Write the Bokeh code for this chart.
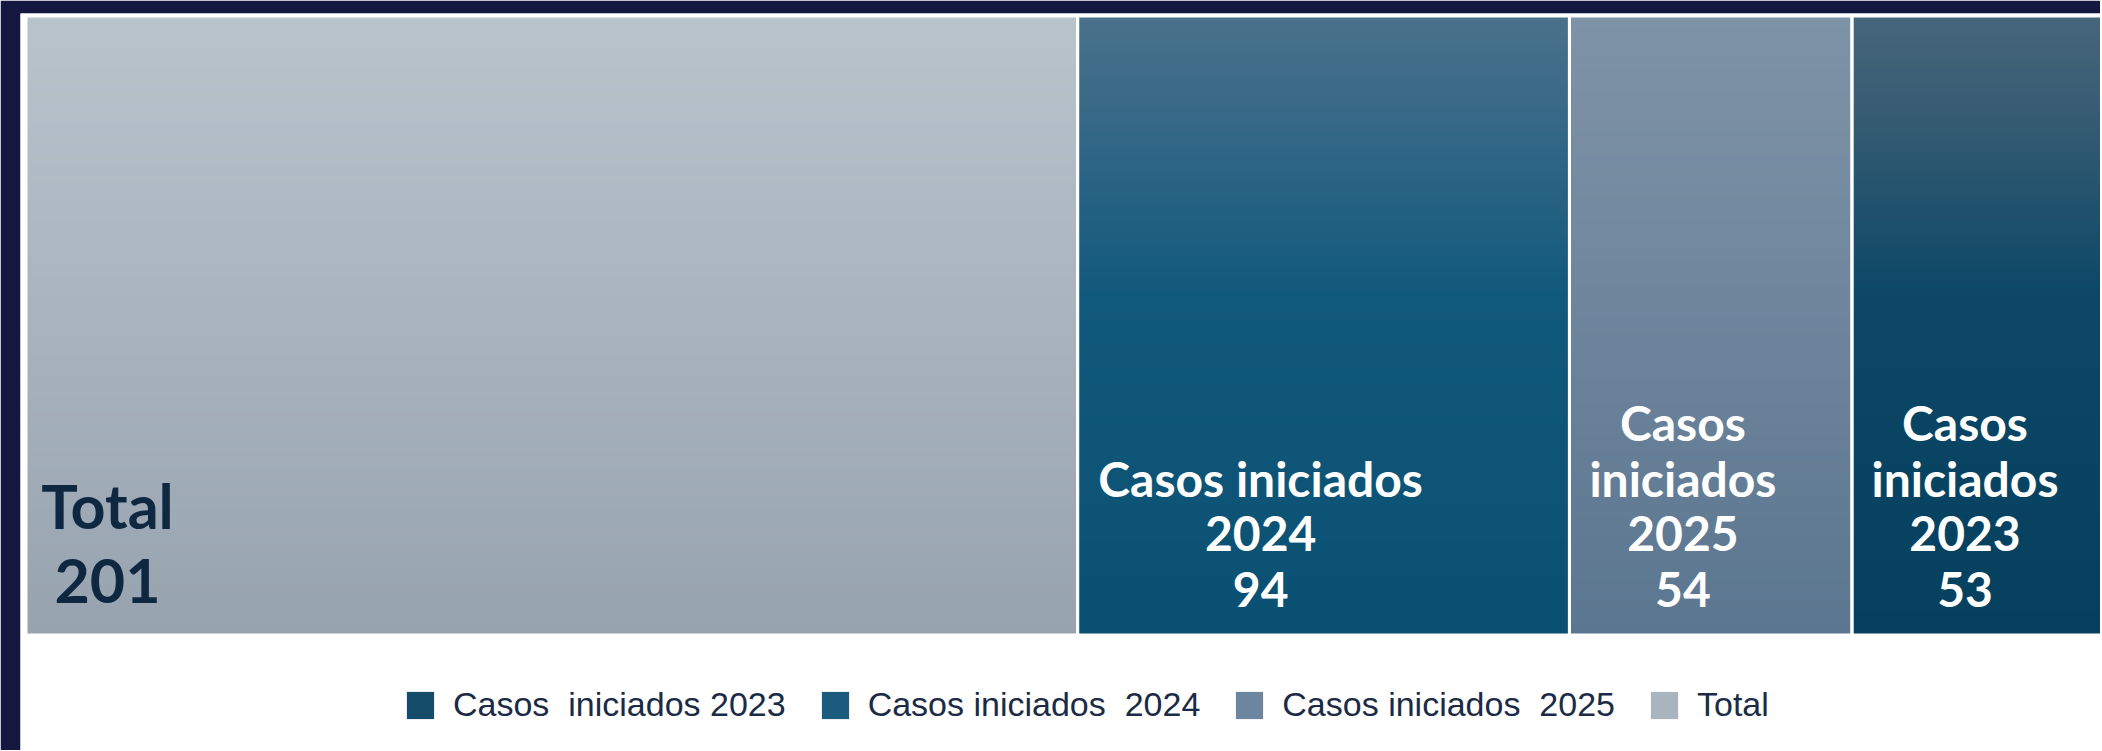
import numpy as np
from bokeh.plotting import figure
from bokeh.models import ColumnDataSource, Range1d, Legend, LegendItem
from bokeh.core.properties import value
from bokeh.embed import file_html
from bokeh.resources import INLINE

# ---------------- data ----------------
categories = ["Total", "Casos iniciados  2024", "Casos iniciados  2025", "Casos  iniciados 2023"]
values = [201, 94, 54, 53]

# ---------------- styles / layout ----------------
NAVY = "#141840"
W, H = 2100, 750
BORDER_L, BORDER_T = 20, 13
FW, FH = W - BORDER_L, H - BORDER_T
K = 5.232            # pixels per case along x
PAD_X = 5.5          # white padding left of the first tile (px)
TILE_H = 619         # tile height (px, y data units)
PAD_T = 2.5
gradient_stops = [  # (position from top, colour)
    [(0.0, "#B9C3CC"), (1.0, "#97A3AF")],
    [(0.0, "#4A718B"), (0.16, "#376987"), (0.45, "#11597C"), (1.0, "#0A5072")],
    [(0.0, "#7F93A7"), (1.0, "#5B7690")],
    [(0.0, "#46667A"), (0.15, "#375C73"), (0.45, "#0C4866"), (1.0, "#05405E")],
]
legend_colors = {
    "Total": "#A9B4BF",
    "Casos iniciados  2024": "#1B5C7E",
    "Casos iniciados  2025": "#6D86A0",
    "Casos  iniciados 2023": "#154C6A",
}
word_groups = [[1], [2, 1], [1, 1, 1], [1, 1, 1]]
label_dx = [81.5, 183, 113.5, 113]          # px from tile left to label centre
label_color = ["#0F2842", "#FFFFFF", "#FFFFFF", "#FFFFFF"]
label_size = [61, 48, 48, 48]
label_lh = [75, 55.5, 55.5, 55.5]
label_bottom = [54.5, 46, 46, 46]


def hex2rgb(h):
    return tuple(int(h[i:i + 2], 16) for i in (1, 3, 5))


def grad_image(stops, n=300):
    t = np.linspace(0, 1, n)          # row 0 = bottom
    pos = 1 - t
    ps = [s[0] for s in stops]
    rgb = np.array([hex2rgb(s[1]) for s in stops], dtype=float)
    img = np.empty((n, 1), dtype=np.uint32)
    view = img.view(dtype=np.uint8).reshape((n, 1, 4))
    for c in range(3):
        view[:, 0, c] = np.round(np.interp(pos, ps, rgb[:, c])).astype(np.uint8)
    view[:, 0, 3] = 255
    return img


vals = np.array(values, dtype=float)
lefts = np.concatenate([[0.0], np.cumsum(vals)[:-1]])
rights = lefts + vals

x0 = -PAD_X / K
p = figure(width=W, height=H,
           x_range=Range1d(x0, x0 + FW / K),
           y_range=Range1d(TILE_H + PAD_T - FH, TILE_H + PAD_T),
           output_backend="svg", toolbar_location=None,
           x_axis_type=None, y_axis_type=None,
           min_border_left=BORDER_L, min_border_top=BORDER_T, min_border_right=0, min_border_bottom=0,
           border_fill_color=NAVY, background_fill_color="white", outline_line_color=None)
p.grid.visible = False

img_src = ColumnDataSource(dict(
    image=[grad_image(s) for s in gradient_stops],
    x=list(lefts), y=[0] * len(lefts), dw=list(vals), dh=[TILE_H] * len(lefts)))
p.image_rgba(image="image", x="x", y="y", dw="dw", dh="dh", source=img_src)

p.quad(left=list(lefts), right=list(rights), bottom=[0] * len(lefts), top=[TILE_H] * len(lefts),
       fill_color=None, line_color="white", line_width=3)

# labels, one text glyph row per line
for i, name in enumerate(categories):
    words = name.split()
    lines, k = [], 0
    for g in word_groups[i]:
        lines.append(" ".join(words[k:k + g]))
        k += g
    lines.append(str(values[i]))
    n = len(lines)
    xs = [lefts[i]] * n
    ys = [label_bottom[i] + (n - 1 - j) * label_lh[i] for j in range(n)]
    p.text(x=xs, y=ys, text=lines, x_offset=label_dx[i], text_align="center",
           text_baseline="alphabetic", text_font=value("Lato"), text_font_style="bold",
           text_font_size=f"{label_size[i]}px", text_color=label_color[i])

# legend (swatches drawn by an off-screen helper renderer)
leg_names = sorted(categories)
off = x0 - 50
leg_src = ColumnDataSource(dict(left=[off] * 4, right=[off + 1] * 4, bottom=[0] * 4, top=[1] * 4,
                                color=[legend_colors[n] for n in leg_names]))
r = p.quad(left="left", right="right", bottom="bottom", top="top", fill_color="color",
           line_color=None, source=leg_src)
items = [LegendItem(label=n, renderers=[r], index=i) for i, n in enumerate(leg_names)]

legend = Legend(items=items, orientation="horizontal", location=(383, 26),
                glyph_width=34, glyph_height=34, label_standoff=16, spacing=32,
                padding=0, margin=0, border_line_color=None, background_fill_alpha=0,
                label_text_font="Liberation Sans", label_text_font_size="34px",
                label_text_color="#1B2B45")
p.add_layout(legend, "center")

open("out.html", "w").write(file_html(p, INLINE))
